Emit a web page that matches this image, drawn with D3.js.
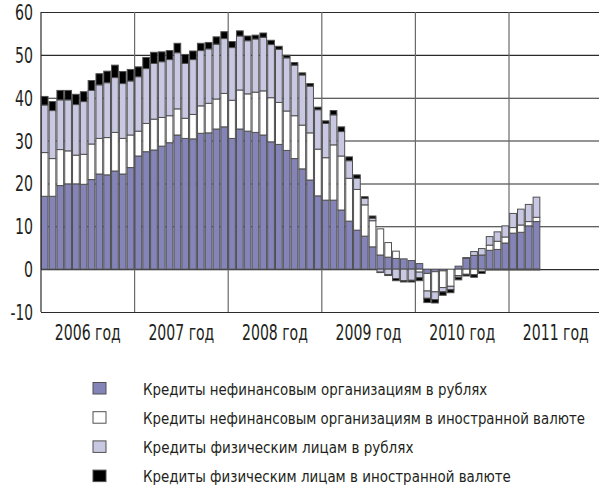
<!DOCTYPE html>
<html>
<head>
<meta charset="utf-8">
<script src="https://cdn.jsdelivr.net/npm/d3@7"></script>
<style>
  body { margin: 0; background: #fff; }
  svg { display: block; }
  text { font-family: "Liberation Sans Narrow", "Arial Narrow", "DejaVu Sans Condensed", sans-serif; fill: #231f20; }
</style>
</head>
<body>
<svg id="chart" width="599" height="486"></svg>
<script>
// Years shown on the horizontal axis (monthly bars, Jan 2006 – Apr 2011)
const years = [2006, 2007, 2008, 2009, 2010, 2011];
const yearLabels = ["2006 год", "2007 год", "2008 год", "2009 год", "2010 год", "2011 год"];
const yTicks = [-10, 0, 10, 20, 30, 40, 50, 60];

// Series, percentage points, one value per month
const orgRub = [
  17.0, 17.0, 19.5, 19.9, 19.9, 19.8, 20.9, 22.2, 22.0, 22.9, 22.2, 23.7,
  26.4, 27.4, 27.8, 28.7, 29.5, 31.3, 30.5, 30.4, 31.7, 31.8, 32.7, 33.2,
  30.5, 32.7, 32.2, 31.9, 31.3, 29.7, 29.1, 27.7, 25.8, 23.4, 20.8, 17.1,
  16.1, 16.1, 13.8, 11.2, 9.1, 7.7, 5.2, 3.3, 2.8, 2.5, 2.4, 2.0,
  1.3, -1.0, -0.6, -0.4, 0.0, 0.7, 2.5, 3.2, 3.3, 4.4, 4.6, 6.1,
  8.4, 8.6, 10.1, 11.1
];
const orgFx = [
  10.2, 8.8, 8.4, 7.7, 6.7, 7.0, 8.3, 8.3, 8.7, 9.0, 8.3, 7.6,
  5.8, 6.6, 7.2, 6.7, 6.3, 6.1, 4.7, 5.7, 6.4, 6.9, 7.0, 7.8,
  8.9, 9.1, 8.7, 9.4, 10.3, 10.3, 9.8, 9.2, 10.0, 10.2, 11.0, 10.9,
  9.9, 12.9, 12.6, 10.0, 9.5, 7.3, 6.1, 6.1, 3.4, 1.7, 0.0, 0.0,
  -0.7, -4.1, -4.7, -3.9, -4.0, -1.5, -1.2, -1.3, -0.5, 1.2, 1.9, 1.4,
  1.3, 1.7, 1.0, 1.0
];
const indRub = [
  11.1, 11.2, 11.6, 11.9, 11.8, 12.3, 12.5, 12.5, 12.8, 12.8, 12.8, 12.6,
  12.7, 12.8, 13.0, 13.0, 13.1, 13.1, 12.8, 12.8, 12.9, 12.7, 12.8, 12.8,
  12.3, 12.6, 12.4, 12.4, 12.5, 12.4, 12.4, 12.4, 11.8, 11.7, 10.9, 9.2,
  8.0, 7.0, 5.7, 4.1, 2.6, 1.5, 0.6, -0.7, -1.3, -2.2, -2.7, -2.6,
  -1.3, -1.7, -1.8, -1.0, -0.8, -0.4, 0.2, 0.9, 1.5, 2.0, 2.2, 2.6,
  3.3, 3.7, 4.0, 4.7
];
const indFx = [
  2.0, 2.1, 2.2, 2.2, 2.4, 2.3, 2.3, 2.6, 2.7, 2.9, 2.8, 2.7,
  2.3, 2.6, 2.6, 2.3, 2.1, 2.2, 2.1, 2.0, 1.7, 1.5, 1.7, 1.6,
  1.4, 1.2, 1.1, 0.9, 1.0, 1.0, 0.7, 0.6, 0.6, 0.5, 0.6, 0.6,
  0.6, 1.0, 1.1, 0.9, 0.8, 0.4, 0.5, -0.1, -0.2, -0.5, -0.3, -0.4,
  -0.7, -1.0, -0.8, -0.8, -0.7, -0.6, -0.4, -0.6, -0.5, -0.2, -0.2, -0.2,
  -0.2, -0.2, -0.2, -0.2
];

const seriesNames = [
  "Кредиты нефинансовым организациям в рублях",
  "Кредиты нефинансовым организациям в иностранной валюте",
  "Кредиты физическим лицам в рублях",
  "Кредиты физическим лицам в иностранной валюте"
];
const seriesKeys = ["orgRub", "orgFx", "indRub", "indFx"];
const seriesColors = ["#8484b9", "#ffffff", "#c8c8e2", "#000000"];

// Month slots: 12 per year; the axis runs to the end of 2011
const allMonths = [];
years.forEach(yr => d3.range(12).forEach(m => allMonths.push(yr + "-" + String(m + 1).padStart(2, "0"))));

const table = orgRub.map((v, i) => ({
  month: allMonths[i], orgRub: v, orgFx: orgFx[i], indRub: indRub[i], indFx: indFx[i]
}));

const svg = d3.select("#chart");
const W = 599;
const plotLeft = 41, plotRight = 602.6, plotTop = 12, plotBottom = 312;

const x = d3.scaleBand().domain(allMonths).range([plotLeft, plotRight]).paddingInner(0.14).paddingOuter(0.04);
const xm = d3.scaleLinear().domain([0, allMonths.length]).range([plotLeft, plotRight]);
const y = d3.scaleLinear().domain([-10, 60]).range([plotBottom, plotTop]);

// Condensed lettering: place a text at (px, py) and squeeze it horizontally to a width
function placeNarrow(node, px, py, width, anchor) {
  const t = d3.select(node).attr("x", 0).attr("y", 0).attr("text-anchor", "start").attr("dx", null).attr("dy", null);
  const natural = node.getComputedTextLength();
  const sx = natural > 0 ? width / natural : 1;
  const x0 = anchor === "end" ? px - width : anchor === "middle" ? px - width / 2 : px;
  t.attr("transform", `translate(${x0},${py}) scale(${sx},1)`);
}

// Horizontal grid
svg.append("g")
  .attr("transform", `translate(${plotLeft},0)`)
  .call(d3.axisLeft(y).tickValues(yTicks).tickSize(-(W - plotLeft)).tickFormat(""))
  .call(g => g.select(".domain").remove())
  .call(g => g.selectAll("line").attr("stroke", "#2b2b2b").attr("stroke-width", 1.1));

// Year separators
svg.append("g").selectAll("line")
  .data(d3.range(1, years.length + 1))
  .join("line")
  .attr("x1", k => xm(12 * k)).attr("x2", k => xm(12 * k))
  .attr("y1", plotTop).attr("y2", plotBottom)
  .attr("stroke", "#6a6a6a").attr("stroke-width", 1.2);

// Stacked bars (negative parts stack below zero)
const stack = d3.stack().keys(seriesKeys).offset(d3.stackOffsetDiverging);
const stacked = stack(table);

svg.append("g").selectAll("g")
  .data(stacked)
  .join("g")
  .attr("fill", (d, i) => seriesColors[i])
  .selectAll("rect")
  .data(d => d.filter(s => Math.abs(s[1] - s[0]) > 1e-9))
  .join("rect")
  .attr("x", d => x(d.data.month))
  .attr("width", x.bandwidth())
  .attr("y", d => y(Math.max(d[0], d[1])))
  .attr("height", d => Math.abs(y(d[0]) - y(d[1])))
  .attr("stroke", "#505050")
  .attr("stroke-width", 1);

// Left axis line
svg.append("line")
  .attr("x1", plotLeft).attr("x2", plotLeft).attr("y1", plotTop).attr("y2", plotBottom)
  .attr("stroke", "#2b2b2b").attr("stroke-width", 1.2);

// Y tick labels (plain hyphen for negatives)
const yAxisG = svg.append("g")
  .attr("transform", `translate(${plotLeft},0)`)
  .call(d3.axisLeft(y).tickValues(yTicks).tickSize(0).tickPadding(8).tickFormat(d => String(d)))
  .call(g => g.select(".domain").remove());
yAxisG.selectAll(".tick text")
  .style("font-family", '"Liberation Sans Narrow", "Arial Narrow", "DejaVu Sans Condensed", sans-serif')
  .style("font-size", "21px")
  .attr("fill", "#231f20")
  .each(function () {
    const s = this.textContent;
    let w = 0;
    for (const ch of s) w += ch === "-" ? 4.5 : 9;
    // baseline sits a little below the tick so the digits centre on it
    placeNarrow(this, -8, 7.5, w, "end");
  });

// Year labels
svg.append("g").selectAll("text")
  .data(yearLabels)
  .join("text")
  .style("font-size", "21px")
  .text(d => d)
  .each(function (d, i) { placeNarrow(this, xm(12 * i + 6), 340, 66, "middle"); });

// Legend
const legendWidths = [344.6, 442.3, 270.6, 368];
const legend = svg.append("g").selectAll("g")
  .data(seriesNames)
  .join("g")
  .attr("transform", (d, i) => `translate(0,${i * 29.2})`);
legend.append("rect")
  .attr("x", 93).attr("y", 382.5).attr("width", 13).attr("height", 11.5)
  .attr("fill", (d, i) => seriesColors[i])
  .attr("stroke", "#505050").attr("stroke-width", 1);
legend.append("text")
  .style("font-size", "16px")
  .text(d => d)
  .each(function (d, i) { placeNarrow(this, 143, 394.5, legendWidths[i], "start"); });
</script>
</body>
</html>
